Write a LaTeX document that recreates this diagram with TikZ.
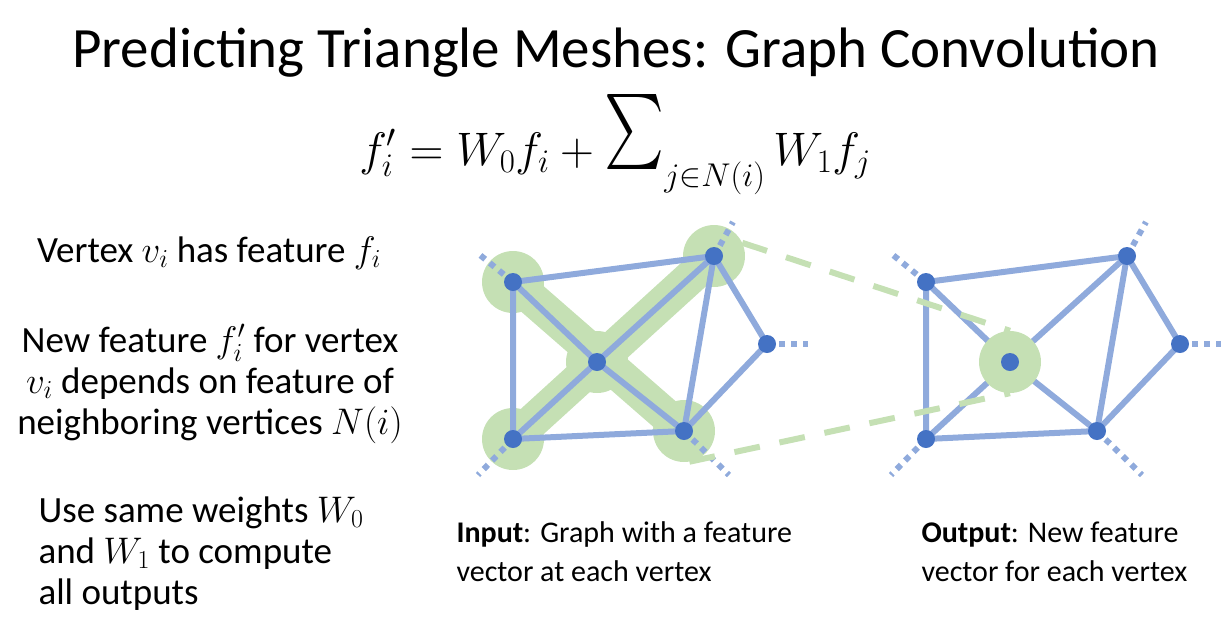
\RequirePackage{fix-cm}
\documentclass[tikz,border=0pt]{standalone}
\usepackage{amsmath}
\usepackage{graphicx}
\usepackage[no-math]{fontspec}
\setmainfont{Carlito}
\usepackage{xcolor}
\usetikzlibrary{positioning}
\definecolor{meshblue}{HTML}{8FAADC}
\definecolor{dotblue}{HTML}{4472C4}
\definecolor{halogreen}{HTML}{C5E0B4}
\newcommand{\bigsigma}{\mathop{\raisebox{-5pt}[50pt][20pt]{\resizebox*{60pt}{75pt}{\raisebox{\depth}{$\sum$}}}}\nolimits}

\begin{document}
\begin{tikzpicture}[x=1pt, y=-1pt,
  vtx/.style={circle, fill=dotblue, inner sep=0pt, minimum size=18pt},
  halo/.style={circle, fill=halogreen, inner sep=0pt, minimum size=62pt},
  meshline/.style={draw=meshblue, line width=6pt},
  stub/.style={draw=meshblue, line width=6pt, dash pattern=on 6pt off 6pt},
  band/.style={draw=halogreen, line width=34pt},
  link/.style={draw=halogreen, line width=6pt, dash pattern=on 26pt off 20pt},
  txt/.style={font=\fontsize{37}{41}\selectfont},
  captxt/.style={font=\fontsize{30}{39}\selectfont, align=left, anchor=base west}]
\useasboundingbox (0,0) rectangle (1232,638);
% title and formula
\node[anchor=base, font=\fontsize{57}{68}\selectfont] (title) at (616,67) {Predicting Triangle Meshes: Graph Convolution};
\node[anchor=base, font=\fontsize{47}{52}\selectfont] (eq) at (615,165) {$f_i' = W_0 f_i + \bigsigma_{j\in N(i)} W_1 f_j$};
% left column
\node[txt, anchor=base] (t1) at (209,262) {Vertex $v_i$ has feature $f_i$};
\node[txt, anchor=base, align=center] (t2) at (210,434) {New feature $f_i'$ for vertex\\$v_i$ depends on feature of\\neighboring vertices $N(i)$};
\node[txt, anchor=base west, align=left] (t3) at (35,604) {Use same weights $W_0$\\and $W_1$ to compute\\all outputs};
% the two meshes
\foreach \g/\dx in {1/0, 2/413} {
  \begin{scope}[xshift=\dx]
    \coordinate (a\g) at (513,282);
    \coordinate (b\g) at (714,256);
    \coordinate (c\g) at (597,362);
    \coordinate (d\g) at (513,439);
    \coordinate (e\g) at (684,431);
    \coordinate (f\g) at (767,344);
    \coordinate (sa\g) at (480,255);
    \coordinate (sb\g) at (733,222);
    \coordinate (sd\g) at (478,475);
    \coordinate (se\g) at (729,475);
    \coordinate (sf\g) at (808,344);
  \end{scope}
}
\draw[band] (a1) -- (e1);
\draw[band] (d1) -- (b1);
\foreach \v in {a,b,c,d,e} \node[halo] (h\v1) at (\v1) {};
\foreach \g in {1,2} {
  \draw[meshline] (a\g) -- (b\g) -- (f\g) -- (e\g) -- (d\g) -- cycle;
  \draw[meshline] (a\g) -- (c\g) -- (e\g) -- (b\g) -- (c\g) -- (d\g);
  \foreach \v in {a,b,d,e,f} \draw[stub] (\v\g) -- (s\v\g);
}
\node[halo] (hc2) at (c2) {};
\draw[link] (hb1.25) -- (hc2.north);
\draw[link] (he1.-80) -- (hc2.south);
\foreach \g in {1,2}
  \foreach \v in {a,b,c,d,e,f} \node[vtx] (v\v\g) at (\v\g) {};
% captions
\node[captxt] (incap) at (453,581) {\textbf{Input}: Graph with a feature\\vector at each vertex};
\node[captxt] (outcap) at (918,581) {\textbf{Output}: New feature\\vector for each vertex};
\end{tikzpicture}
\end{document}
